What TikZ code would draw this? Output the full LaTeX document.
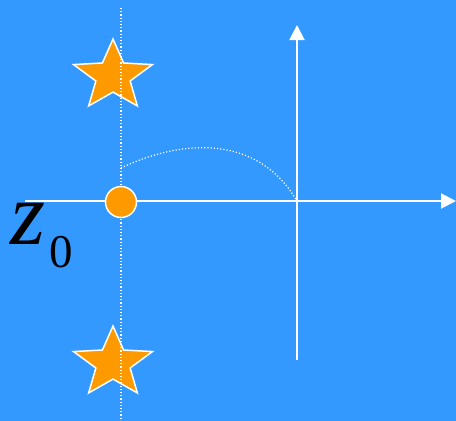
\documentclass[tikz,border=0pt]{standalone}
\usepackage{fontspec}
\usepackage{tikz}
\usetikzlibrary{arrows.meta,shapes.geometric}
\newfontfamily\timesfont{Liberation Serif}
\definecolor{skyblue}{HTML}{3399FF}
\definecolor{amber}{HTML}{FF9900}

\begin{document}
\begin{tikzpicture}[x=1pt, y=-1pt,
  axis/.style={draw=white, line width=2pt, -{Triangle[length=15pt,width=15pt]}},
  guide/.style={draw=white, line width=1.2pt, dash pattern=on 1.2pt off 2pt},
  starbox/.style={star, star points=5, star point ratio=2.3, minimum size=74pt,
    xscale=1.12, transform shape, inner sep=0pt, fill=amber, draw=white, line width=1.5pt},
  pole/.style={circle, minimum size=31pt, inner sep=0pt, fill=amber, draw=white, line width=1.5pt}]
\fill[skyblue] (0,0) rectangle (456,421);
\useasboundingbox (0,0) rectangle (456,421);
% the two stars, then the dotted guide over them
\node[starbox] (startop) at (113,76) {};
\node[starbox] (starbot) at (113,363) {};
\coordinate (guidetop) at (121,8);
\coordinate (guidebot) at (121,421);
\draw[guide] (guidetop) -- (guidebot);
% axes
\coordinate (xfrom) at (25,201);
\coordinate (xto) at (456,201);
\coordinate (yfrom) at (297,360);
\coordinate (yto) at (297,25);
\coordinate (origin) at (297,201);
\draw[axis] (xfrom) -- (xto);
\draw[axis] (yfrom) -- (yto);
% dotted arc into the origin
\coordinate (arcstart) at (121,168);
\draw[guide] (arcstart) .. controls (175,142) and (255,130) .. (origin);
\node[pole] (z0) at (121,202) {};
\node[anchor=base west, inner sep=0pt] (zlabel) at (10,244)
  {\timesfont\fontsize{90}{96}\selectfont\itshape z\kern4pt\raisebox{-23pt}{\fontsize{47}{50}\selectfont\upshape 0}};
\end{tikzpicture}
\end{document}
